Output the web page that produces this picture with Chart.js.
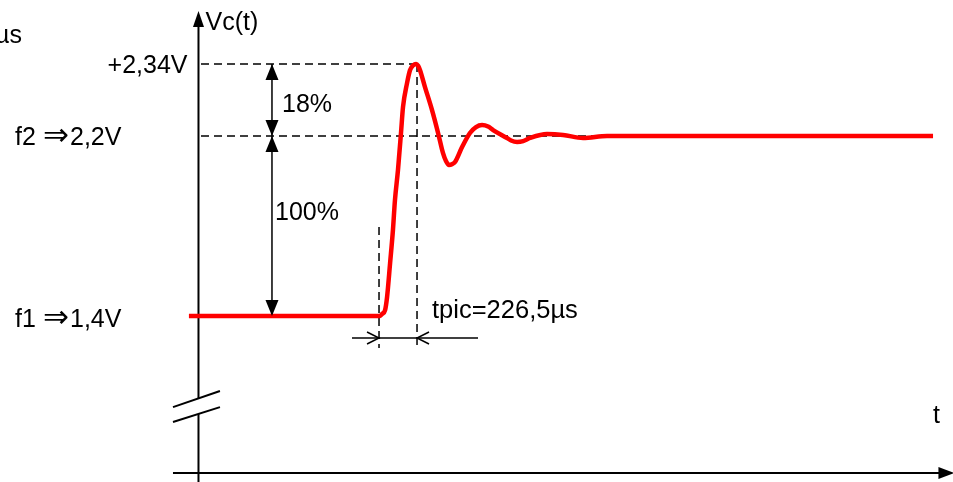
<!DOCTYPE html>
<html lang="fr">
<head>
<meta charset="utf-8">
<title>Vc(t) - dépassement</title>
<script src="https://cdn.jsdelivr.net/npm/chart.js@4.4.4/dist/chart.umd.min.js"></script>
<style>
  body { margin: 0; background: #fff; }
  canvas { display: block; }
</style>
</head>
<body>
<canvas id="step-plot" width="953" height="482"></canvas>
<script>
// time in µs (0 = start of the step), response in diagram units: 0 = f1, 1 = f2
const time_us = [-1133, 6, 18, 36, 48, 66, 83, 95, 113, 131, 143, 167, 185, 203, 221, 233, 244, 274, 316, 352,
  381, 399, 417, 435, 453, 495, 542, 578, 614, 650, 680, 763, 787, 823, 859, 900, 1001, 1097, 1216, 1359, 1556, 3302];
const response = [0, 0, 0.011, 0.033, 0.106, 0.294, 0.478, 0.644, 0.811, 1.017, 1.161, 1.294, 1.367, 1.392, 1.4,
  1.39, 1.367, 1.272, 1.144, 1.017, 0.906, 0.861, 0.839, 0.843, 0.856, 0.939, 1.017, 1.05, 1.061, 1.053, 1.033,
  0.989, 0.975, 0.967, 0.972, 0.989, 1.011, 1.006, 0.989, 1.0, 1.0, 1.0];

const level_values = [0, 1, 1.4];
const level_names = ['f1', 'f2', '+2,34V'];
const level_volts = ['1,4V', '2,2V'];
const percent_labels = ['100%', '18%'];
const t_start = 0;
const t_pic = 226.5;
const t_pic_label = 'tpic=226,5µs';
const y_axis_title = 'Vc(t)';
const x_axis_title = 't';
const corner_label = 'µs';

// layout of the schematic, in the same units
const AXIS_T = -1076;
const ARROW_T = -638;
const Y_TOP = 1.611, Y_BOTTOM = -0.922, Y_GAP = [-0.458, -0.544];
const X_AXIS_R = -0.872, X_FROM = -1228, X_TO = 3340;
const DASH_BOTTOM = -0.178, STEP_DASH_TOP = 0.494;
const TPIC_R = -0.122, TPIC_FROM = -161, TPIC_TO = 590;

function seg(points, color, width, dash) {
  return {
    data: points.map(p => ({x: p[0], y: p[1]})),
    borderColor: color,
    borderWidth: width,
    borderDash: dash || [],
    pointRadius: 0,
    tension: 0,
    fill: false,
  };
}

const BLACK = '#000000';
const DASH = [8, 5];

const datasets = [
  {
    data: time_us.map((t, i) => ({x: t, y: response[i]})),
    borderColor: '#ff0000',
    borderWidth: 4.5,
    pointRadius: 0,
    cubicInterpolationMode: 'monotone',
    borderJoinStyle: 'round',
    borderCapStyle: 'butt',
    fill: false,
  },
  seg([[AXIS_T + 15, level_values[2]], [t_pic, level_values[2]]], BLACK, 1.5, DASH),
  seg([[AXIS_T + 15, level_values[1]], [time_us[time_us.length - 1], level_values[1]]], BLACK, 1.5, DASH),
  seg([[t_pic, level_values[2]], [t_pic, DASH_BOTTOM]], BLACK, 1.5, DASH),
  seg([[t_start, STEP_DASH_TOP], [t_start, DASH_BOTTOM]], BLACK, 1.5, DASH),
  seg([[ARROW_T, level_values[2]], [ARROW_T, level_values[0]]], BLACK, 1.5),
  seg([[TPIC_FROM, TPIC_R], [TPIC_TO, TPIC_R]], BLACK, 1.5),
  seg([[AXIS_T, Y_TOP], [AXIS_T, Y_GAP[0]]], BLACK, 2),
  seg([[AXIS_T, Y_GAP[1]], [AXIS_T, Y_BOTTOM]], BLACK, 2),
  seg([[X_FROM, X_AXIS_R], [X_TO, X_AXIS_R]], BLACK, 2),
  seg([[-1228, -0.506], [-948, -0.417]], BLACK, 2),
  seg([[-1228, -0.589], [-948, -0.506]], BLACK, 2),
];

function tri(ctx, a, b, c) {
  ctx.beginPath();
  ctx.moveTo(a[0], a[1]);
  ctx.lineTo(b[0], b[1]);
  ctx.lineTo(c[0], c[1]);
  ctx.closePath();
  ctx.fill();
}

const FONT = '25px "Liberation Sans", Arial, sans-serif';
const ARROW_FONT = '31px "DejaVu Sans", sans-serif';

function levelLabel(ctx, name, volts, baseline) {
  ctx.font = FONT;
  ctx.fillText(name, 15, baseline);
  ctx.font = ARROW_FONT;
  ctx.fillText('\u21D2', 43, baseline);
  ctx.font = FONT;
  ctx.fillText(volts, 70, baseline);
}

const overlay = {
  id: 'overlay',
  afterDatasetsDraw(chart) {
    const {ctx, scales: {x, y}} = chart;
    const px = v => x.getPixelForValue(v);
    const py = v => y.getPixelForValue(v);
    ctx.save();
    ctx.fillStyle = BLACK;
    ctx.strokeStyle = BLACK;

    // axis arrowheads
    const ax = px(AXIS_T), top = py(Y_TOP);
    tri(ctx, [ax, top - 15], [ax - 5.5, top + 1], [ax + 5.5, top + 1]);
    const xr = px(X_TO), ay = py(X_AXIS_R);
    tri(ctx, [xr + 15, ay], [xr - 1, ay - 6], [xr - 1, ay + 6]);

    // double arrows 18% / 100%
    const dx = px(ARROW_T);
    const yPeak = py(level_values[2]), yF2 = py(level_values[1]), yF1 = py(level_values[0]);
    const h = 16, w = 6.5;
    tri(ctx, [dx, yPeak], [dx - w, yPeak + h], [dx + w, yPeak + h]);
    tri(ctx, [dx, yF2], [dx - w, yF2 - h], [dx + w, yF2 - h]);
    tri(ctx, [dx, yF2], [dx - w, yF2 + h], [dx + w, yF2 + h]);
    tri(ctx, [dx, yF1], [dx - w, yF1 - h], [dx + w, yF1 - h]);

    // open arrowheads for tpic
    const ty = py(TPIC_R), x0 = px(t_start), x1 = px(t_pic);
    ctx.lineWidth = 1.5;
    ctx.beginPath();
    ctx.moveTo(x0 - 12, ty - 6); ctx.lineTo(x0, ty); ctx.lineTo(x0 - 12, ty + 6);
    ctx.moveTo(x1 + 12, ty - 6); ctx.lineTo(x1, ty); ctx.lineTo(x1 + 12, ty + 6);
    ctx.stroke();

    // texts
    ctx.textBaseline = 'alphabetic';
    ctx.textAlign = 'left';
    levelLabel(ctx, level_names[1], level_volts[1], yF2 + 9);
    levelLabel(ctx, level_names[0], level_volts[0], yF1 + 11);
    ctx.font = FONT;
    ctx.fillText(y_axis_title, ax + 7, top + 4);
    ctx.fillText(x_axis_title, 933, 423);
    ctx.fillText(percent_labels[1], dx + 10, yPeak + 48);
    ctx.fillText(percent_labels[0], dx + 3, yF2 + 84);
    ctx.font = '25.5px "Liberation Sans", Arial, sans-serif';
    ctx.fillText(t_pic_label, x1 + 15, yF1 + 2);
    ctx.font = FONT;
    ctx.textAlign = 'right';
    ctx.fillText(level_names[2], ax - 11, yPeak + 9);
    ctx.fillText(corner_label, 22, 43);
    ctx.restore();
  }
};

new Chart(document.getElementById('step-plot'), {
  type: 'line',
  data: {datasets},
  options: {
    responsive: false,
    animation: false,
    devicePixelRatio: 1,
    layout: {padding: 0},
    events: [],
    plugins: {legend: {display: false}, tooltip: {enabled: false}},
    scales: {
      x: {type: 'linear', min: -2259, max: 3421, display: false},
      y: {type: 'linear', min: -0.9222, max: 1.7556, display: false},
    },
  },
  plugins: [overlay],
});
</script>
</body>
</html>
